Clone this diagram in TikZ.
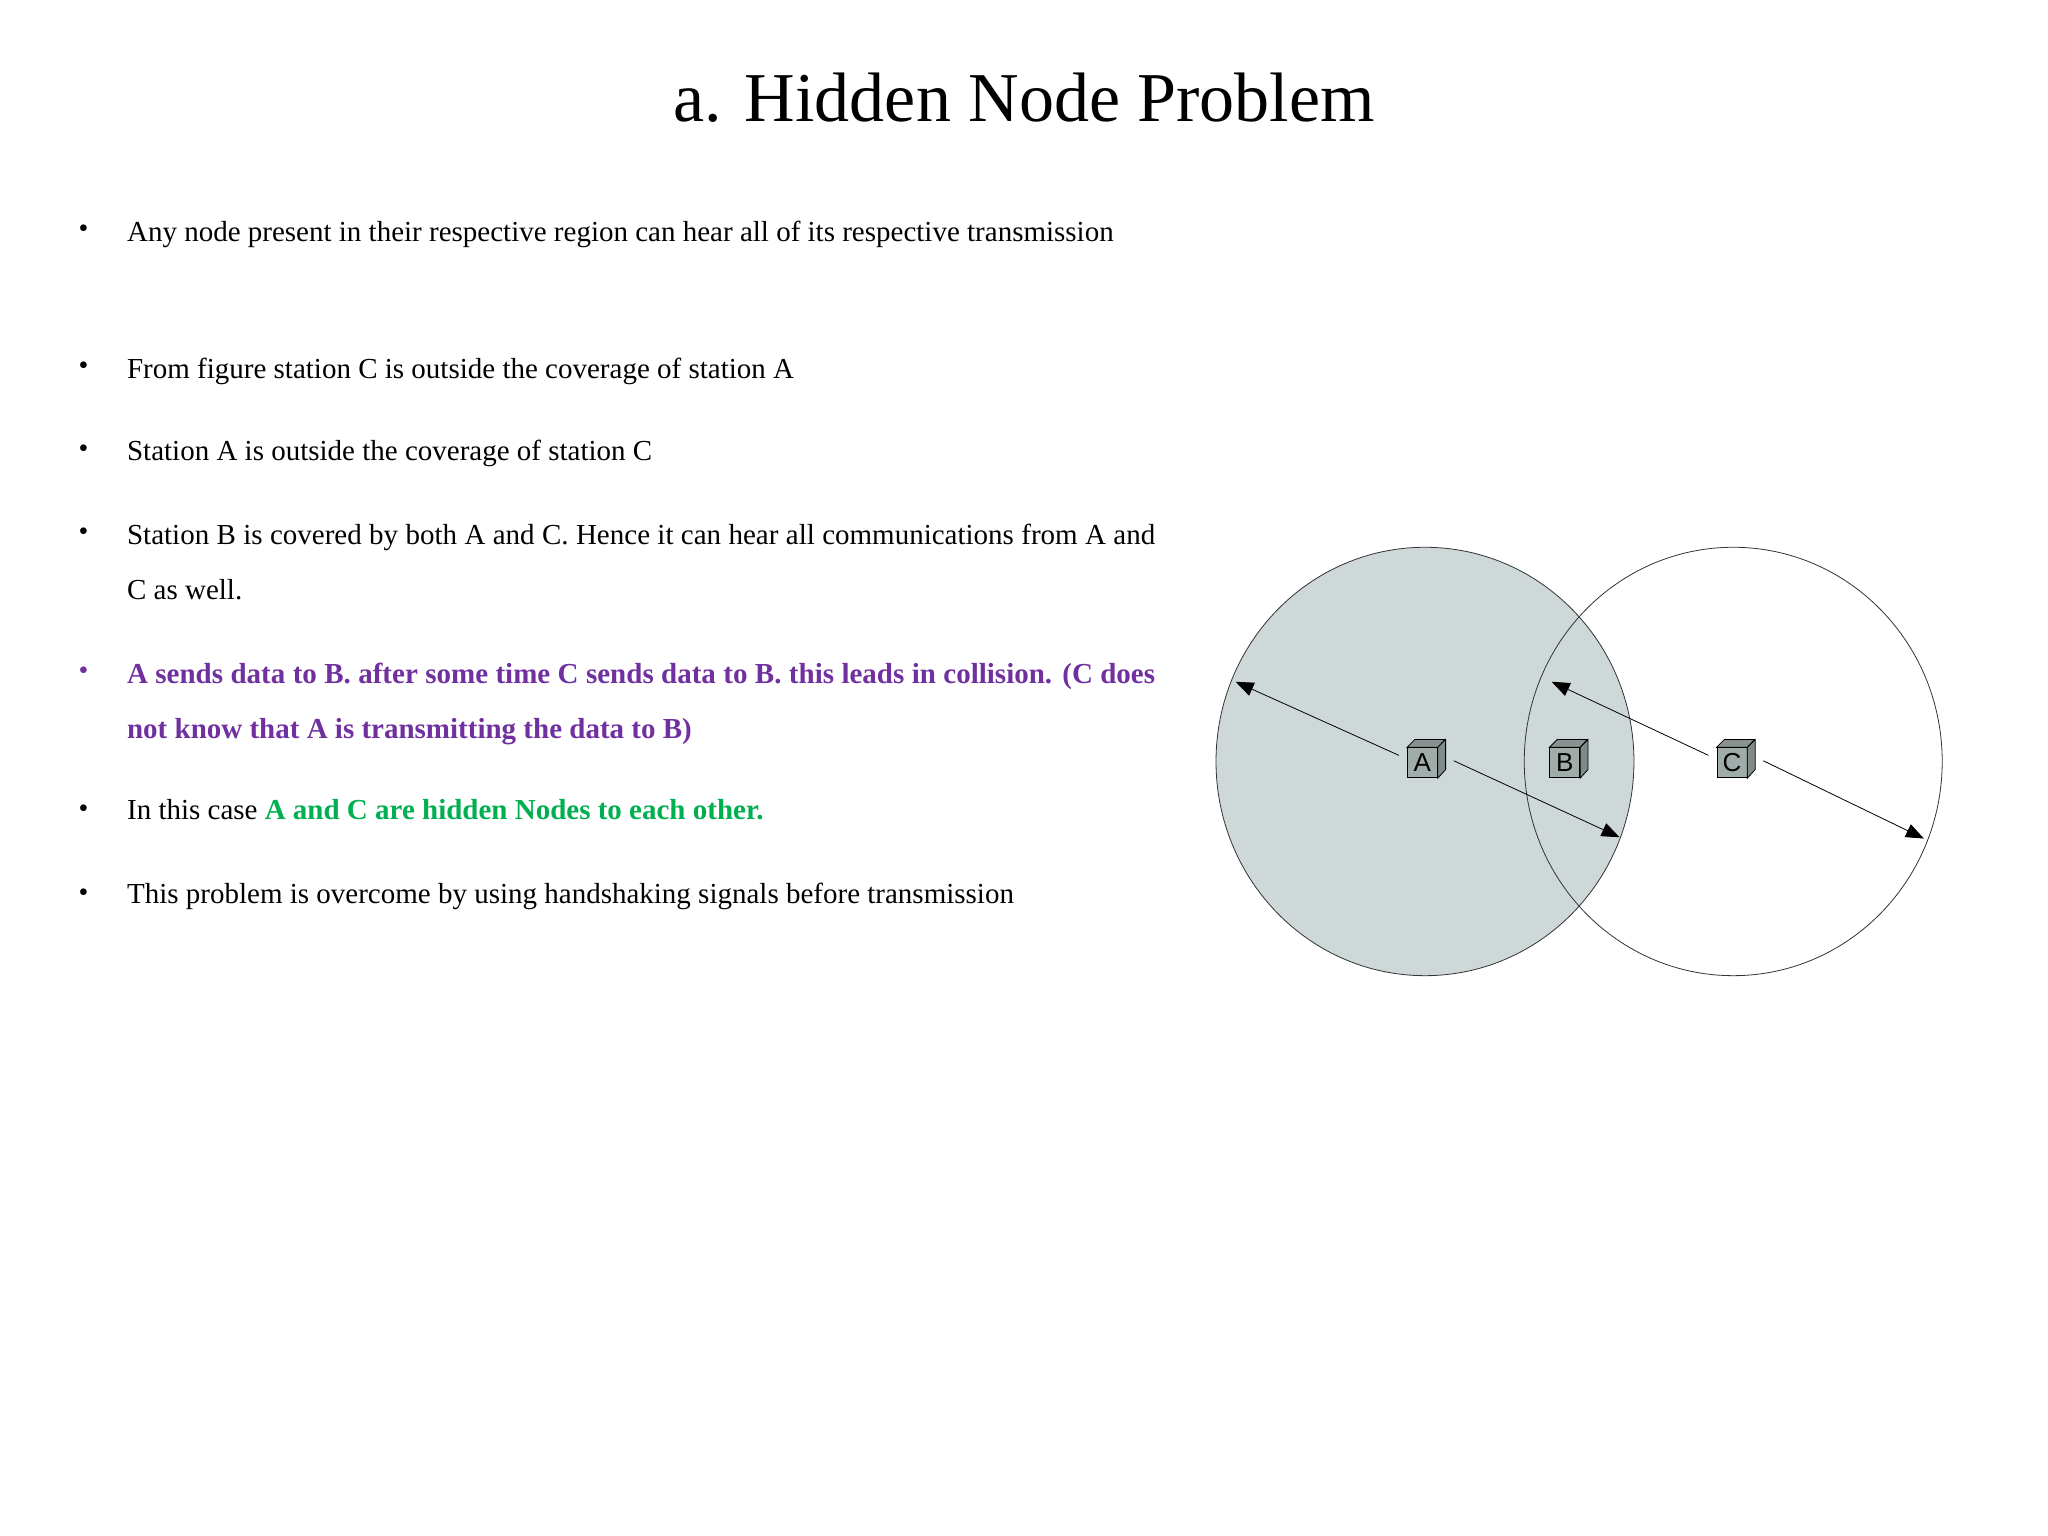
\documentclass[tikz,border=0pt]{standalone}
\usepackage{fontspec}
\setmainfont{Liberation Serif}
\setsansfont{Liberation Sans}
\usetikzlibrary{arrows.meta}
\definecolor{purp}{RGB}{112,48,160}
\definecolor{grn}{RGB}{0,176,80}
\definecolor{cov}{RGB}{206,216,216}
\definecolor{cube}{RGB}{160,172,170}
\begin{document}
\begin{tikzpicture}[x=0.653pt,y=-0.653pt,
  para/.style={anchor=north west,inner sep=0pt,text width=514pt,align=justify,font=\fontsize{14.5}{27.5}\selectfont},
  bul/.style={anchor=base,inner sep=0pt,font=\fontsize{14}{16}\selectfont},
  stn/.style={draw,fill=cube,minimum size=15pt,inner sep=0pt,font=\sffamily\fontsize{13}{13}\selectfont},
  arr/.style={-{Triangle[length=9pt,width=7pt]},thin}]
\useasboundingbox (0,0) rectangle (1568,1176);
\node[anchor=base,font=\fontsize{35}{40}\selectfont] (title) at (784,93) {a. Hidden Node Problem};
\foreach \y in {182,287,350,414,626,690}{\node[bul] at (64,\y) {•};}
\node[bul,text=purp] at (64,520) {•};
\node[para] (p1) at (97,169) {Any node present in their respective region can hear all of its respective transmission};
\node[para] (p2) at (97,274) {From figure station C is outside the coverage of station A};
\node[para] (p3) at (97,337) {Station A is outside the coverage of station C};
\node[para] (p4) at (97,401) {Station B is covered by both A and C. Hence it can hear all communications from A and C as well.};
\node[para,text=purp,font=\bfseries\fontsize{14.5}{27.5}\selectfont] (p5) at (97,507) {A sends data to B. after some time C sends data to B. this leads in collision. (C does not know that A is transmitting the data to B)};
\node[para] (p6) at (97,612) {In this case \textcolor{grn}{\textbf{A and C are hidden Nodes to each other.}}};
\node[para] (p7) at (97,676) {This problem is overcome by using handshaking signals before transmission};
% coverage
\fill[cov] (1091,583) ellipse [x radius=160,y radius=164];
\draw[gray!40!black,thin] (1327,583) ellipse [x radius=160,y radius=164];
\draw[gray!40!black,thin] (1091,583) ellipse [x radius=160,y radius=164];
% stations
\foreach \n/\x in {A/1089,B/1198,C/1326}{
  \node[stn] (\n) at (\x,584) {\n};
  \draw[fill=cube!85!black] (\n.north west) -- ++(6,-6) -- ++(23,0) -- (\n.north east) -- cycle;
  \draw[fill=cube!80!black] (\n.north east) -- ++(6,-6) -- ++(0,23) -- (\n.south east) -- cycle;
}
\coordinate (a1) at (946,522);
\coordinate (a2) at (1240,641);
\coordinate (c1) at (1188,522);
\coordinate (c2) at (1473,642);
\draw[arr] ([xshift=-4pt,yshift=-4pt]A.north west) -- (a1);
\draw[arr] ([xshift=8pt,yshift=1pt]A.east) -- (a2);
\draw[arr] ([xshift=-4pt,yshift=-4pt]C.north west) -- (c1);
\draw[arr] ([xshift=8pt,yshift=1pt]C.east) -- (c2);
\end{tikzpicture}
\end{document}
